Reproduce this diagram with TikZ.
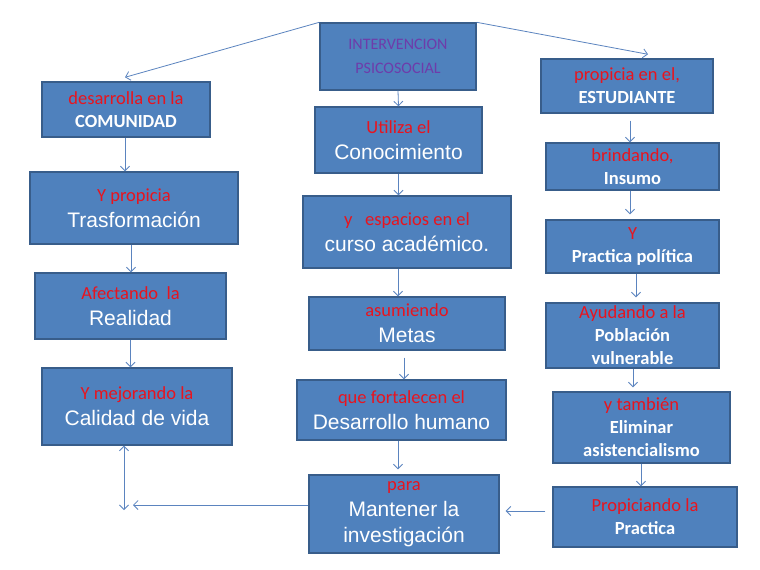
\documentclass[tikz,border=0pt]{standalone}
\usepackage{fontspec}
\setmainfont{Carlito}
\newfontfamily\arialf{Liberation Sans}
\usetikzlibrary{arrows.meta}
\definecolor{relleno}{HTML}{4F81BD}
\definecolor{borde}{HTML}{385D8A}
\definecolor{rojo}{HTML}{E8141E}
\definecolor{morado}{HTML}{6E3CAA}
\definecolor{linea}{HTML}{5B84BF}
\newcommand{\rojo}[1]{{\color{rojo}#1}}
\tikzset{
  caja/.style={rectangle, draw=borde, line width=1.4pt, fill=relleno,
    text=white, align=center, inner sep=0pt, font=\fontsize{18.5}{23}\selectfont},
  grande/.style={caja, font=\fontsize{18.5}{26}\selectfont},
  flecha/.style={-{Straight Barb[length=4.5pt, width=9pt]}, line width=0.8pt, color=linea},
}
\newcommand{\ar}[1]{{\arialf\fontsize{21}{26}\selectfont #1}}
\begin{document}
\begin{tikzpicture}[x=1pt, y=-1pt]
  \useasboundingbox[fill=white] (0,0) rectangle (760,570);
  % centro
  \node[caja, minimum width=156pt, minimum height=67pt, text=morado,
    font=\fontsize{16}{24}\selectfont] (interv) at (398,56.5) {INTERVENCION\\PSICOSOCIAL};
  % columna izquierda
  \node[caja, minimum width=168pt, minimum height=55pt] (comun) at (126,109.5)
    {\rojo{desarrolla en la}\\\textbf{COMUNIDAD}};
  \node[grande, minimum width=208pt, minimum height=72pt] (trasf) at (134,208)
    {\rojo{Y propicia}\\\ar{Trasformación}};
  \node[grande, minimum width=191pt, minimum height=66pt] (real) at (130.5,306)
    {\rojo{Afectando\ \ la}\\\ar{Realidad}};
  \node[grande, minimum width=190pt, minimum height=77pt] (calidad) at (137,406.5)
    {\rojo{Y mejorando la}\\\ar{Calidad de vida}};
  % columna central
  \node[grande, minimum width=167pt, minimum height=66pt] (conoc) at (398.5,140)
    {\rojo{Utiliza el}\\\ar{Conocimiento}};
  \node[grande, minimum width=208pt, minimum height=72pt] (curso) at (407,232)
    {\rojo{y\ \ \ espacios en\ el}\\\ar{curso académico.}};
  \node[grande, minimum width=196pt, minimum height=53pt] (metas) at (407,323.5)
    {\rojo{asumiendo}\\\ar{Metas}};
  \node[grande, minimum width=209pt, minimum height=60pt] (desarr) at (401.5,410)
    {\rojo{que fortalecen el}\\\ar{Desarrollo humano}};
  \node[grande, minimum width=190pt, minimum height=78pt] (mant) at (404,514)
    {\rojo{para}\\\ar{Mantener la}\\\ar{investigación}};
  % columna derecha
  \node[caja, minimum width=172pt, minimum height=54pt] (estud) at (627,86)
    {\rojo{propicia en el,}\\\textbf{ESTUDIANTE}};
  \node[caja, minimum width=173pt, minimum height=47pt] (insumo) at (632.5,166.5)
    {\rojo{brindando,}\\\textbf{Insumo}};
  \node[caja, minimum width=173pt, minimum height=53pt] (polit) at (632.5,246.5)
    {\rojo{Y}\\\textbf{Practica política}};
  \node[caja, minimum width=173pt, minimum height=65pt] (pobl) at (632.5,335.5)
    {\rojo{Ayudando a la}\\\textbf{Población}\\\textbf{vulnerable}};
  \node[caja, minimum width=177pt, minimum height=71pt] (elim) at (641.5,427.5)
    {\rojo{y también}\\\textbf{Eliminar}\\\textbf{asistencialismo}};
  \node[caja, minimum width=184pt, minimum height=60pt] (propic) at (645,517)
    {\rojo{Propiciando la}\\\textbf{Practica}};
  \coordinate (esquina) at (124,510);
  \coordinate (llegada) at (133,505);

  \draw[flecha] (interv.north west) -- ([xshift=-1pt, yshift=4pt]comun.north);
  \draw[flecha] (interv.north east) -- ([xshift=21pt, yshift=4pt]estud.north);
  \draw[flecha] (interv.south) -- (conoc.north);
  \draw[flecha] ([xshift=-1pt]comun.south) -- ([xshift=-1pt]comun.south |- trasf.north);
  \draw[flecha] ([xshift=-3pt]trasf.south) -- ([xshift=-3pt]trasf.south |- real.north);
  \draw[flecha] (real.south) -- (real.south |- calidad.north);
  \draw[flecha, {Straight Barb[length=4.5pt, width=9pt]}-{Straight Barb[length=4.5pt, width=9pt]}]
    ([xshift=-13pt]calidad.south) -- (esquina);
  \draw[flecha] ([yshift=9pt]mant.west) -- (llegada);
  \draw[flecha] (conoc.south) -- (conoc.south |- curso.north);
  \draw[flecha] ([xshift=-9pt]curso.south) -- ([xshift=-9pt]curso.south |- metas.north);
  \draw[flecha, shorten <=7pt] ([xshift=-3pt]metas.south) -- ([xshift=-3pt]metas.south |- desarr.north);
  \draw[flecha, shorten >=5pt] ([xshift=-3.5pt]desarr.south) -- ([xshift=-3.5pt]desarr.south |- mant.north);
  \draw[flecha, shorten <=7pt] ([xshift=3pt]estud.south) -- ([xshift=3pt]estud.south |- insumo.north);
  \draw[flecha, shorten >=5pt] ([xshift=-2.5pt]insumo.south) -- ([xshift=-2.5pt]insumo.south |- polit.north);
  \draw[flecha, shorten >=5pt] ([xshift=3.5pt]polit.south) -- ([xshift=3.5pt]polit.south |- pobl.north);
  \draw[flecha, shorten >=4pt] ([xshift=0.5pt]pobl.south) -- ([xshift=0.5pt]pobl.south |- elim.north);
  \draw[flecha] ([xshift=-0.5pt]elim.south) -- ([xshift=-0.5pt]elim.south |- propic.north);
  \draw[flecha, shorten <=7pt, shorten >=6pt] ([yshift=6pt]propic.west) -- ([yshift=6pt]propic.west -| mant.east);
\end{tikzpicture}
\end{document}
